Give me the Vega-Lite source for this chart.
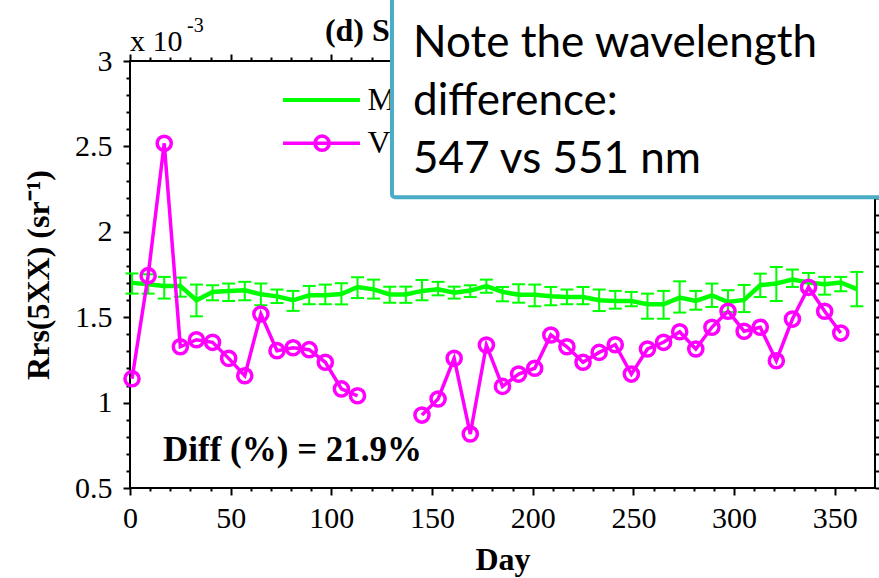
{
  "$schema": "https://vega.github.io/schema/vega-lite/v6.json",
  "width": 745,
  "height": 427,
  "autosize": {"type": "none"},
  "padding": {"left": 130, "top": 61, "right": 4, "bottom": 90},
  "background": "white",
  "config": {
    "view": {"stroke": "black", "strokeWidth": 2},
    "font": "Liberation Serif",
    "axis": {
      "grid": false,
      "domain": false,
      "tickColor": "black",
      "tickWidth": 2,
      "labelFont": "Liberation Serif",
      "labelFontSize": 30,
      "labelColor": "black",
      "titleFont": "Liberation Serif",
      "titleFontSize": 32,
      "titleFontWeight": "bold",
      "titleColor": "black"
    }
  },
  "datasets": {
    "modis": [
      {"day": 1, "rrs": 1.701, "lo": 1.638, "hi": 1.756},
      {"day": 9, "rrs": 1.693, "lo": 1.638, "hi": 1.751},
      {"day": 17, "rrs": 1.683, "lo": 1.609, "hi": 1.736},
      {"day": 25, "rrs": 1.683, "lo": 1.620, "hi": 1.732},
      {"day": 33, "rrs": 1.599, "lo": 1.505, "hi": 1.691},
      {"day": 41, "rrs": 1.648, "lo": 1.599, "hi": 1.687},
      {"day": 49, "rrs": 1.654, "lo": 1.595, "hi": 1.697},
      {"day": 57, "rrs": 1.658, "lo": 1.599, "hi": 1.707},
      {"day": 65, "rrs": 1.634, "lo": 1.570, "hi": 1.697},
      {"day": 73, "rrs": 1.622, "lo": 1.583, "hi": 1.662},
      {"day": 81, "rrs": 1.599, "lo": 1.537, "hi": 1.654},
      {"day": 89, "rrs": 1.628, "lo": 1.576, "hi": 1.683},
      {"day": 97, "rrs": 1.628, "lo": 1.576, "hi": 1.691},
      {"day": 105, "rrs": 1.636, "lo": 1.575, "hi": 1.699},
      {"day": 113, "rrs": 1.677, "lo": 1.612, "hi": 1.734},
      {"day": 121, "rrs": 1.663, "lo": 1.609, "hi": 1.720},
      {"day": 129, "rrs": 1.633, "lo": 1.584, "hi": 1.679},
      {"day": 137, "rrs": 1.633, "lo": 1.584, "hi": 1.679},
      {"day": 145, "rrs": 1.654, "lo": 1.599, "hi": 1.718},
      {"day": 153, "rrs": 1.663, "lo": 1.628, "hi": 1.707},
      {"day": 161, "rrs": 1.643, "lo": 1.609, "hi": 1.679},
      {"day": 169, "rrs": 1.656, "lo": 1.618, "hi": 1.687},
      {"day": 177, "rrs": 1.682, "lo": 1.643, "hi": 1.720},
      {"day": 185, "rrs": 1.648, "lo": 1.593, "hi": 1.677},
      {"day": 193, "rrs": 1.632, "lo": 1.585, "hi": 1.693},
      {"day": 201, "rrs": 1.632, "lo": 1.564, "hi": 1.691},
      {"day": 209, "rrs": 1.622, "lo": 1.570, "hi": 1.677},
      {"day": 217, "rrs": 1.618, "lo": 1.576, "hi": 1.662},
      {"day": 225, "rrs": 1.618, "lo": 1.576, "hi": 1.677},
      {"day": 233, "rrs": 1.599, "lo": 1.536, "hi": 1.662},
      {"day": 241, "rrs": 1.595, "lo": 1.550, "hi": 1.654},
      {"day": 249, "rrs": 1.595, "lo": 1.564, "hi": 1.648},
      {"day": 257, "rrs": 1.576, "lo": 1.491, "hi": 1.638},
      {"day": 265, "rrs": 1.576, "lo": 1.491, "hi": 1.654},
      {"day": 273, "rrs": 1.615, "lo": 1.527, "hi": 1.710},
      {"day": 281, "rrs": 1.595, "lo": 1.544, "hi": 1.654},
      {"day": 289, "rrs": 1.628, "lo": 1.560, "hi": 1.697},
      {"day": 297, "rrs": 1.589, "lo": 1.530, "hi": 1.658},
      {"day": 305, "rrs": 1.601, "lo": 1.530, "hi": 1.689},
      {"day": 313, "rrs": 1.687, "lo": 1.618, "hi": 1.755},
      {"day": 321, "rrs": 1.697, "lo": 1.595, "hi": 1.794},
      {"day": 329, "rrs": 1.720, "lo": 1.677, "hi": 1.779},
      {"day": 337, "rrs": 1.703, "lo": 1.655, "hi": 1.759},
      {"day": 345, "rrs": 1.693, "lo": 1.632, "hi": 1.736},
      {"day": 353, "rrs": 1.703, "lo": 1.652, "hi": 1.736},
      {"day": 361, "rrs": 1.664, "lo": 1.564, "hi": 1.765}
    ],
    "viirs": [
      {"day": 1, "rrs": 1.140},
      {"day": 9, "rrs": 1.743},
      {"day": 17, "rrs": 2.518},
      {"day": 25, "rrs": 1.327},
      {"day": 33, "rrs": 1.368},
      {"day": 41, "rrs": 1.353},
      {"day": 49, "rrs": 1.259},
      {"day": 57, "rrs": 1.157},
      {"day": 65, "rrs": 1.519},
      {"day": 73, "rrs": 1.304},
      {"day": 81, "rrs": 1.321},
      {"day": 89, "rrs": 1.310},
      {"day": 97, "rrs": 1.236},
      {"day": 105, "rrs": 1.080},
      {"day": 113, "rrs": 1.040},
      {"day": 121, "rrs": null},
      {"day": 129, "rrs": null},
      {"day": 137, "rrs": null},
      {"day": 145, "rrs": 0.927},
      {"day": 153, "rrs": 1.021},
      {"day": 161, "rrs": 1.259},
      {"day": 169, "rrs": 0.816},
      {"day": 177, "rrs": 1.337},
      {"day": 185, "rrs": 1.095},
      {"day": 193, "rrs": 1.167},
      {"day": 201, "rrs": 1.201},
      {"day": 209, "rrs": 1.396},
      {"day": 217, "rrs": 1.327},
      {"day": 225, "rrs": 1.236},
      {"day": 233, "rrs": 1.294},
      {"day": 241, "rrs": 1.339},
      {"day": 249, "rrs": 1.167},
      {"day": 257, "rrs": 1.314},
      {"day": 265, "rrs": 1.353},
      {"day": 273, "rrs": 1.415},
      {"day": 281, "rrs": 1.314},
      {"day": 289, "rrs": 1.441},
      {"day": 297, "rrs": 1.535},
      {"day": 305, "rrs": 1.418},
      {"day": 313, "rrs": 1.441},
      {"day": 321, "rrs": 1.245},
      {"day": 329, "rrs": 1.489},
      {"day": 337, "rrs": 1.675},
      {"day": 345, "rrs": 1.535},
      {"day": 353, "rrs": 1.407}
    ]
  },
  "resolve": {"axis": {"x": "independent", "y": "independent"}},
  "layer": [
    {
      "data": {"name": "modis"},
      "mark": {"type": "rule", "color": "#00ff00", "strokeWidth": 2},
      "encoding": {
        "x": {"field": "day", "type": "quantitative",
              "scale": {"domain": [0, 370], "nice": false, "zero": false},
              "axis": {"orient": "bottom", "values": [0, 50, 100, 150, 200, 250, 300, 350], "tickSize": 7, "labelPadding": 8, "labelFlush": false, "title": "Day", "titlePadding": 11}},
        "y": {"field": "lo", "type": "quantitative",
              "scale": {"domain": [0.5, 3], "nice": false, "zero": false},
              "axis": {"orient": "left", "values": [0.5, 1, 1.5, 2, 2.5, 3], "format": "~g", "tickSize": 7, "labelPadding": 11, "labelFlush": false, "title": "Rrs(5XX) (sr⁻¹)", "titlePadding": 19}},
        "y2": {"field": "hi"}
      }
    },
    {
      "data": {"name": "modis"},
      "mark": {"type": "tick", "orient": "horizontal", "size": 13, "thickness": 2, "color": "#00ff00", "opacity": 1},
      "encoding": {
        "x": {"field": "day", "type": "quantitative",
              "axis": {"orient": "bottom", "values": [10, 20, 30, 40, 60, 70, 80, 90, 110, 120, 130, 140, 160, 170, 180, 190, 210, 220, 230, 240, 260, 270, 280, 290, 310, 320, 330, 340, 360], "tickSize": 3, "labels": false, "title": null}},
        "y": {"field": "hi", "type": "quantitative",
              "axis": {"orient": "left", "values": [0.6, 0.7, 0.8, 0.9, 1.1, 1.2, 1.3, 1.4, 1.6, 1.7, 1.8, 1.9, 2.1, 2.2, 2.3, 2.4, 2.6, 2.7, 2.8, 2.9], "tickSize": 4, "labels": false, "title": null}}
      }
    },
    {
      "data": {"name": "modis"},
      "mark": {"type": "tick", "orient": "horizontal", "size": 13, "thickness": 2, "color": "#00ff00", "opacity": 1},
      "encoding": {
        "x": {"field": "day", "type": "quantitative", "axis": null},
        "y": {"field": "lo", "type": "quantitative", "axis": null}
      }
    },
    {
      "data": {"name": "modis"},
      "mark": {"type": "line", "color": "#00ff00", "strokeWidth": 4.5},
      "encoding": {
        "x": {"field": "day", "type": "quantitative",
              "axis": {"orient": "top", "values": [0, 50, 100, 150, 200, 250, 300, 350], "tickSize": 7, "labels": false, "title": null}},
        "y": {"field": "rrs", "type": "quantitative",
              "axis": {"orient": "right", "values": [0.5, 1, 1.5, 2, 2.5, 3], "tickSize": 7, "labels": false, "title": null}}
      }
    },
    {
      "data": {"name": "viirs"},
      "mark": {"type": "line", "color": "#ff00ff", "strokeWidth": 3.5, "invalid": "break-paths-show-domains"},
      "encoding": {
        "x": {"field": "day", "type": "quantitative",
              "axis": {"orient": "top", "values": [10, 20, 30, 40, 60, 70, 80, 90, 110, 120, 130, 140, 160, 170, 180, 190, 210, 220, 230, 240, 260, 270, 280, 290, 310, 320, 330, 340, 360], "tickSize": 4, "labels": false, "title": null}},
        "y": {"field": "rrs", "type": "quantitative",
              "axis": {"orient": "right", "values": [0.6, 0.7, 0.8, 0.9, 1.1, 1.2, 1.3, 1.4, 1.6, 1.7, 1.8, 1.9, 2.1, 2.2, 2.3, 2.4, 2.6, 2.7, 2.8, 2.9], "tickSize": 4, "labels": false, "title": null}}
      }
    },
    {
      "data": {"name": "viirs"},
      "mark": {"type": "point", "filled": false, "stroke": "#ff00ff", "strokeWidth": 3.5, "size": 200, "opacity": 1},
      "encoding": {
        "x": {"field": "day", "type": "quantitative", "axis": null},
        "y": {"field": "rrs", "type": "quantitative", "axis": null}
      }
    },
    {
      "data": {"values": [{}]},
      "mark": {"type": "rule", "color": "#00ff00", "strokeWidth": 4},
      "encoding": {
        "x": {"datum": 76, "type": "quantitative", "axis": null},
        "x2": {"datum": 114.2},
        "y": {"datum": 2.771, "type": "quantitative", "axis": null}
      }
    },
    {
      "data": {"values": [{}]},
      "mark": {"type": "rule", "color": "#ff00ff", "strokeWidth": 3.5},
      "encoding": {
        "x": {"datum": 76, "type": "quantitative", "axis": null},
        "x2": {"datum": 114.2},
        "y": {"datum": 2.519, "type": "quantitative", "axis": null}
      }
    },
    {
      "data": {"values": [{}]},
      "mark": {"type": "point", "filled": false, "stroke": "#ff00ff", "strokeWidth": 3.5, "size": 200, "opacity": 1},
      "encoding": {
        "x": {"datum": 95.4, "type": "quantitative", "axis": null},
        "y": {"datum": 2.519, "type": "quantitative", "axis": null}
      }
    },
    {
      "data": {"values": [{}]},
      "mark": {"type": "text", "text": "MODIS", "font": "Liberation Serif", "fontSize": 32, "align": "left", "baseline": "middle", "color": "black"},
      "encoding": {
        "x": {"datum": 118, "type": "quantitative", "axis": null},
        "y": {"datum": 2.771, "type": "quantitative", "axis": null}
      }
    },
    {
      "data": {"values": [{}]},
      "mark": {"type": "text", "text": "VIIRS", "font": "Liberation Serif", "fontSize": 32, "align": "left", "baseline": "middle", "color": "black"},
      "encoding": {
        "x": {"datum": 118, "type": "quantitative", "axis": null},
        "y": {"datum": 2.519, "type": "quantitative", "axis": null}
      }
    },
    {
      "data": {"values": [{}]},
      "mark": {"type": "text", "text": "Diff (%) = 21.9%", "font": "Liberation Serif", "fontSize": 35, "fontWeight": "bold", "align": "left", "baseline": "alphabetic", "color": "black"},
      "encoding": {
        "x": {"datum": 16.4, "type": "quantitative", "axis": null},
        "y": {"datum": 0.661, "type": "quantitative", "axis": null}
      }
    },
    {
      "data": {"values": [{}]},
      "mark": {"type": "text", "text": "x 10", "font": "Liberation Serif", "fontSize": 30, "align": "left", "baseline": "alphabetic", "color": "black"},
      "encoding": {
        "x": {"datum": 0, "type": "quantitative", "axis": null},
        "y": {"datum": 3.06, "type": "quantitative", "axis": null}
      }
    },
    {
      "data": {"values": [{}]},
      "mark": {"type": "text", "text": "-3", "font": "Liberation Serif", "fontSize": 20, "align": "left", "baseline": "alphabetic", "color": "black", "dx": 57},
      "encoding": {
        "x": {"datum": 0, "type": "quantitative", "axis": null},
        "y": {"datum": 3.17, "type": "quantitative", "axis": null}
      }
    },
    {
      "data": {"values": [{}]},
      "mark": {"type": "text", "text": "(d) South Pacific Gyre", "font": "Liberation Serif", "fontSize": 32, "fontWeight": "bold", "align": "left", "baseline": "alphabetic", "color": "black"},
      "encoding": {
        "x": {"datum": 96.8, "type": "quantitative", "axis": null},
        "y": {"datum": 3.12, "type": "quantitative", "axis": null}
      }
    },
    {
      "data": {"values": [{}]},
      "mark": {"type": "rect", "fill": "white", "stroke": "#4BACC6", "strokeWidth": 4, "cornerRadius": 3, "opacity": 1},
      "encoding": {
        "x": {"datum": 130.1, "type": "quantitative", "axis": null},
        "x2": {"datum": 376},
        "y": {"datum": 3.37, "type": "quantitative", "axis": null},
        "y2": {"datum": 2.203}
      }
    },
    {
      "data": {"values": [{}]},
      "mark": {"type": "text", "text": ["Note the wavelength", "difference:", "547 vs 551 nm"], "font": "Lato", "fontSize": 44, "lineHeight": 58, "align": "left", "baseline": "alphabetic", "color": "black"},
      "encoding": {
        "x": {"datum": 140.6, "type": "quantitative", "axis": null},
        "y": {"datum": 3.025, "type": "quantitative", "axis": null}
      }
    }
  ]
}
